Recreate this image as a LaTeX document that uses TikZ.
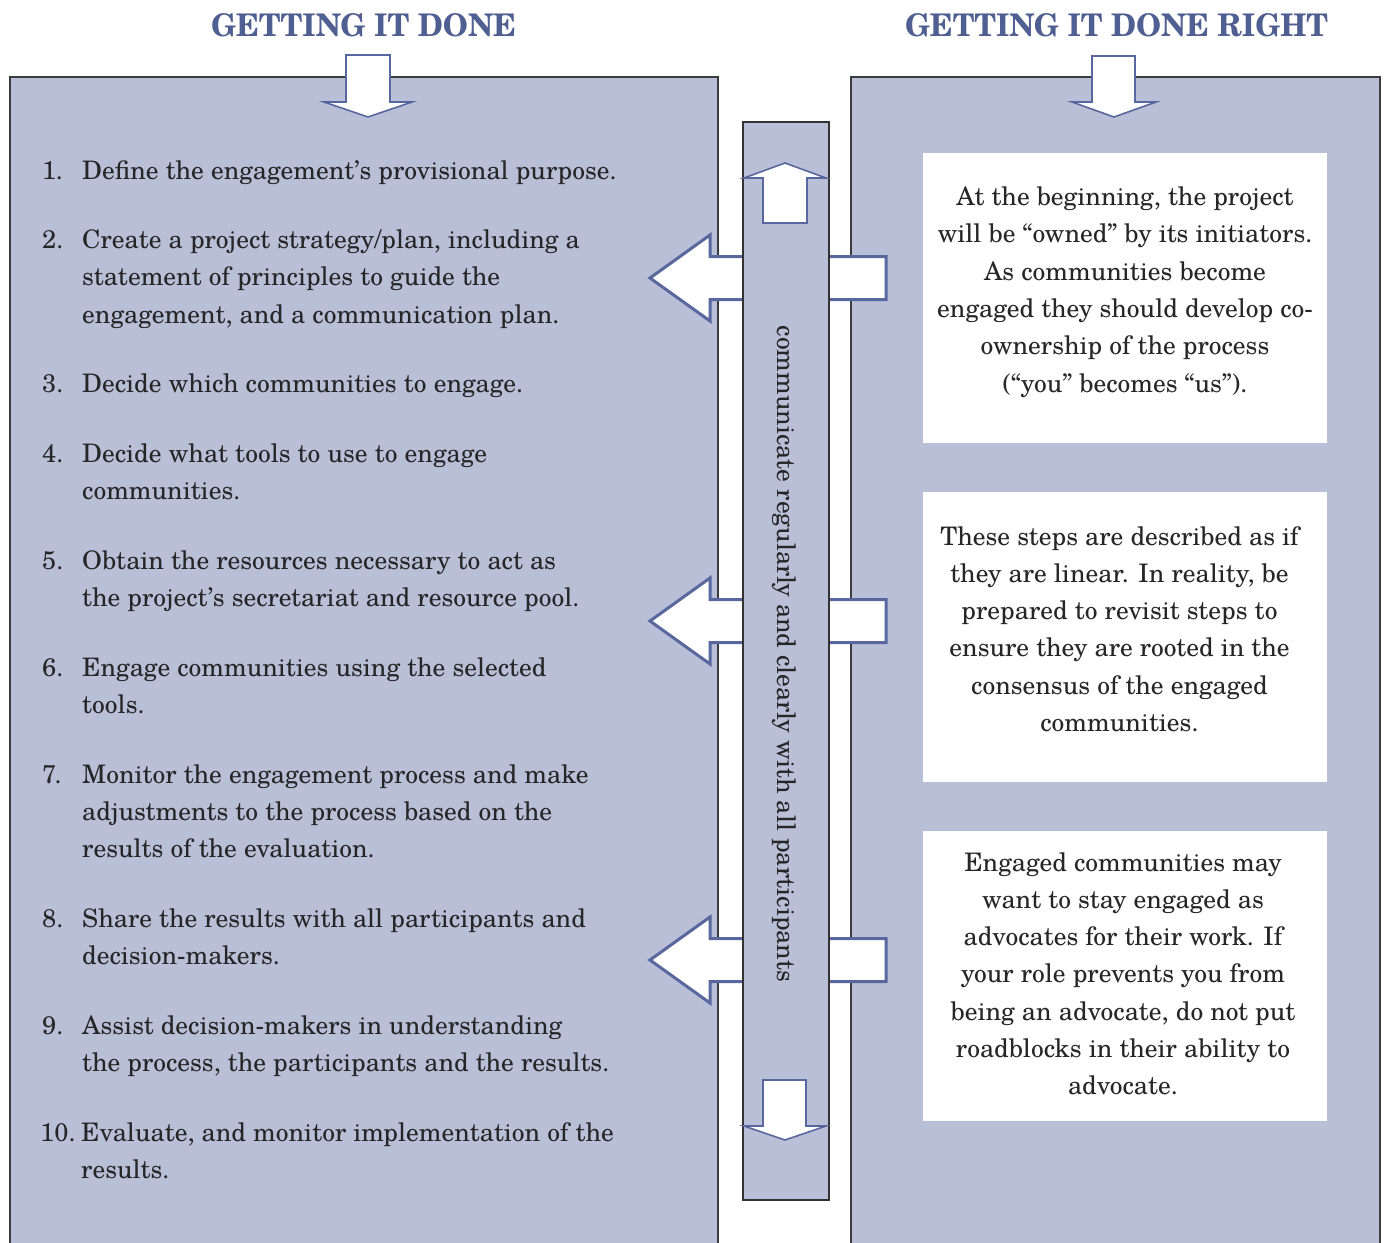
\documentclass[tikz,border=0pt]{standalone}
\usepackage{fontspec}
\setmainfont{texgyreschola-regular.otf}[BoldFont=texgyreschola-bold.otf]
\definecolor{panelfill}{RGB}{186,191,216}
\definecolor{titleblue}{RGB}{80,95,145}
\definecolor{arrowblue}{RGB}{88,104,158}
\definecolor{panelline}{RGB}{60,60,60}
\newcommand\bodyfnt{\fontsize{25.5pt}{37.3pt}\selectfont}
\begin{document}
\begin{tikzpicture}[x=1pt,y=-1pt,
  panelbox/.style={fill=panelfill,draw=panelline,line width=1.2pt},
  whitebox/.style={fill=white,draw=none},
  blockarrow/.style={fill=white,draw=arrowblue,line width=3pt,line join=miter},
  vertarrow/.style={fill=white,draw=arrowblue,line width=1.6pt,line join=miter},
  ltxt/.style={inner sep=0pt,anchor=base west,font=\bodyfnt,text=black!85},
  rtxt/.style={inner sep=0pt,anchor=base,font=\bodyfnt,text=black!85},
  ttl/.style={inner sep=0pt,anchor=base,text=titleblue,font=\bfseries\fontsize{32pt}{36pt}\selectfont}]
\useasboundingbox (0,0) rectangle (1385,1243);
% titles
\node[ttl] (t1) at (363.5,36) {\resizebox{305pt}{23pt}{GETTING IT DONE}};
\node[ttl] (t2) at (1116.5,36) {\resizebox{423pt}{23pt}{GETTING IT DONE RIGHT}};
% panels
\path[panelbox] (10,1250) -- (10,77) -- (718,77) -- (718,1250);
\path[panelbox] (851,1250) -- (851,77) -- (1380,77) -- (1380,1250);
% top arrows
\path[vertarrow] (346,55) -- (390,55) -- (390,102) -- (412,102) -- (368,117) -- (324,102) -- (346,102) -- cycle;
\path[vertarrow] (1092,56) -- (1135,56) -- (1135,102) -- (1156,102) -- (1114,117) -- (1072,102) -- (1092,102) -- cycle;
% white boxes
\path[whitebox] (923,153) rectangle (1327,443);
\path[whitebox] (923,492) rectangle (1327,782);
\path[whitebox] (923,831) rectangle (1327,1121);
% left arrows
\foreach \c in {278,621,960}{
  \path[blockarrow] (886,\c-21.5) -- (710,\c-21.5) -- (710,\c-43) -- (650,\c) -- (710,\c+43) -- (710,\c+21.5) -- (886,\c+21.5) -- cycle;
}
% centre bar
\path[fill=panelfill,draw=black!80,line width=1.2pt] (743,122) rectangle (829,1200);
\path[vertarrow] (785,163) -- (826,178) -- (807,178) -- (807,223) -- (763,223) -- (763,178) -- (744,178) -- cycle;
\path[vertarrow] (763,1080) -- (806,1080) -- (806,1126) -- (826,1126) -- (785,1140) -- (744,1126) -- (763,1126) -- cycle;
\node[inner sep=0pt,anchor=base,rotate=-90,font=\bodyfnt,text=black!85] (bartxt) at (777,654) {communicate regularly and clearly with all participants};
% left list
\node[ltxt] (n1) at (42,179) {1.};
\node[ltxt] (i1a) at (82,179) {Define the engagement’s provisional purpose.};
\node[ltxt] (n2) at (42,248.6) {2.};
\node[ltxt] (i2a) at (82,248.6) {Create a project strategy/plan, including a};
\node[ltxt] (i2b) at (82,285.9) {statement of principles to guide the};
\node[ltxt] (i2c) at (82,323.2) {engagement, and a communication plan.};
\node[ltxt] (n3) at (42,392.8) {3.};
\node[ltxt] (i3a) at (82,392.8) {Decide which communities to engage.};
\node[ltxt] (n4) at (42,462.4) {4.};
\node[ltxt] (i4a) at (82,462.4) {Decide what tools to use to engage};
\node[ltxt] (i4b) at (82,499.7) {communities.};
\node[ltxt] (n5) at (42,569.3) {5.};
\node[ltxt] (i5a) at (82,569.3) {Obtain the resources necessary to act as};
\node[ltxt] (i5b) at (82,606.6) {the project’s secretariat and resource pool.};
\node[ltxt] (n6) at (42,676.2) {6.};
\node[ltxt] (i6a) at (82,676.2) {Engage communities using the selected};
\node[ltxt] (i6b) at (82,713.5) {tools.};
\node[ltxt] (n7) at (42,783.1) {7.};
\node[ltxt] (i7a) at (82,783.1) {Monitor the engagement process and make};
\node[ltxt] (i7b) at (82,820.4) {adjustments to the process based on the};
\node[ltxt] (i7c) at (82,857.7) {results of the evaluation.};
\node[ltxt] (n8) at (42,927.3) {8.};
\node[ltxt] (i8a) at (82,927.3) {Share the results with all participants and};
\node[ltxt] (i8b) at (82,964.6) {decision-makers.};
\node[ltxt] (n9) at (42,1034.2) {9.};
\node[ltxt] (i9a) at (82,1034.2) {Assist decision-makers in understanding};
\node[ltxt] (i9b) at (82,1071.5) {the process, the participants and the results.};
\node[ltxt] (n10) at (40,1141.1) {10.};
\node[ltxt] (i10a) at (81,1141.1) {Evaluate, and monitor implementation of the};
\node[ltxt] (i10b) at (81,1178.4) {results.};
% right box texts
\node[rtxt] (b1a) at (1125,205.5) {At the beginning, the project};
\node[rtxt] (b1b) at (1125,242.8) {will be “owned” by its initiators.};
\node[rtxt] (b1c) at (1125,280.1) {As communities become};
\node[rtxt] (b1d) at (1125,317.4) {engaged they should develop co-};
\node[rtxt] (b1e) at (1125,354.7) {ownership of the process};
\node[rtxt] (b1f) at (1125,392.0) {(“you” becomes “us”).};
\node[rtxt] (b2a) at (1119.5,545) {These steps are described as if};
\node[rtxt] (b2b) at (1119.5,582.3) {they are linear. In reality, be};
\node[rtxt] (b2c) at (1119.5,619.6) {prepared to revisit steps to};
\node[rtxt] (b2d) at (1119.5,656.9) {ensure they are rooted in the};
\node[rtxt] (b2e) at (1119.5,694.2) {consensus of the engaged};
\node[rtxt] (b2f) at (1119.5,731.5) {communities.};
\node[rtxt] (b3a) at (1123,871) {Engaged communities may};
\node[rtxt] (b3b) at (1123,908.3) {want to stay engaged as};
\node[rtxt] (b3c) at (1123,945.6) {advocates for their work. If};
\node[rtxt] (b3d) at (1123,982.9) {your role prevents you from};
\node[rtxt] (b3e) at (1123,1020.2) {being an advocate, do not put};
\node[rtxt] (b3f) at (1123,1057.5) {roadblocks in their ability to};
\node[rtxt] (b3g) at (1123,1094.8) {advocate.};
\end{tikzpicture}
\end{document}
